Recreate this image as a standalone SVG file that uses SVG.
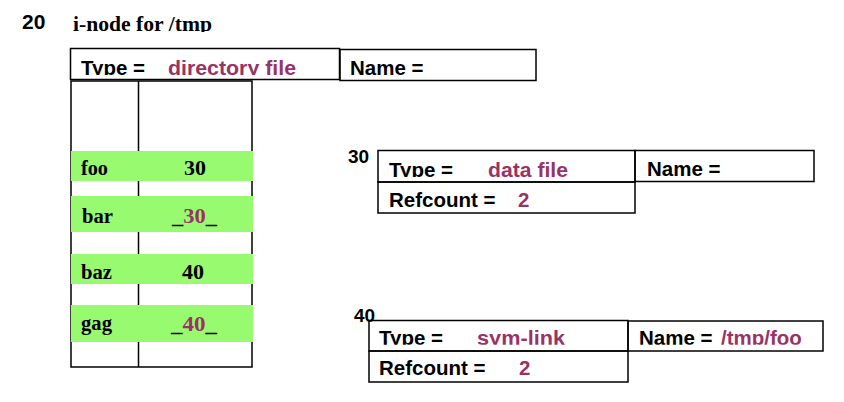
<svg xmlns="http://www.w3.org/2000/svg" width="844" height="402" viewBox="0 0 844 402">
<style>
.box{fill:none;stroke:#000;stroke-width:1.5}
.row{fill:#98fa6f}
.sans{font-family:"Liberation Sans",Arial,sans-serif;font-weight:bold;font-size:20.5px;fill:#000}
.serif{font-family:"Liberation Serif","Times New Roman",serif;font-weight:bold;font-size:20px;fill:#000}
.pur{fill:#993366}
</style>
<defs>
<clipPath id="c20"><rect x="60" y="40" width="490" height="35"/></clipPath>
<clipPath id="c30"><rect x="370" y="140" width="460" height="37"/></clipPath>
<clipPath id="c40"><rect x="360" y="322" width="470" height="22.8"/></clipPath>
<clipPath id="ctitle"><rect x="60" y="5" width="200" height="27"/></clipPath>
</defs>
<rect width="844" height="402" fill="#fff"/>
<g id="title">
<text class="sans" x="22" y="29" style="font-size:21px">20</text>
<text class="serif" x="73" y="31" textLength="139" lengthAdjust="spacingAndGlyphs" clip-path="url(#ctitle)">i-node for /tmp</text>
</g>
<g id="inode20">
<rect class="box" x="70.5" y="48.5" width="269" height="31"/>
<rect class="box" x="340" y="49.5" width="196" height="31"/>
<g clip-path="url(#c20)">
<text class="sans" x="81" y="74.5">Type =</text>
<text class="sans pur" x="168" y="74.5" textLength="128" lengthAdjust="spacingAndGlyphs">directory file</text>
<text class="sans" x="350" y="75">Name =</text>
</g>
<g id="table">
<rect class="box" x="71" y="81" width="181" height="286"/>
<line class="box" x1="138.5" y1="81" x2="138.5" y2="367"/>
<rect class="row" x="71" y="151" width="182" height="30"/>
<rect class="row" x="71" y="196" width="182" height="36"/>
<rect class="row" x="71" y="254" width="182" height="30"/>
<rect class="row" x="71" y="305" width="182" height="37"/>
<text class="serif" x="81" y="175" textLength="27" lengthAdjust="spacingAndGlyphs">foo</text>
<text class="serif" x="184" y="175" textLength="22" lengthAdjust="spacingAndGlyphs">30</text>
<text class="serif" x="82" y="223" textLength="31" lengthAdjust="spacingAndGlyphs">bar</text>
<text class="serif" x="172" y="223" textLength="45" lengthAdjust="spacingAndGlyphs">_<tspan class="pur">30</tspan>_</text>
<text class="serif" x="81" y="279" textLength="31" lengthAdjust="spacingAndGlyphs">baz</text>
<text class="serif" x="182" y="279" textLength="22" lengthAdjust="spacingAndGlyphs">40</text>
<text class="serif" x="81" y="330" textLength="31" lengthAdjust="spacingAndGlyphs">gag</text>
<text class="serif" x="171" y="331" textLength="46" lengthAdjust="spacingAndGlyphs">_<tspan class="pur">40</tspan>_</text>
</g>
</g>
<g id="inode30">
<text class="sans" x="348" y="163" style="font-size:19px">30</text>
<rect class="box" x="378" y="150.5" width="257" height="31.5"/>
<rect class="box" x="635" y="150.5" width="179" height="31"/>
<rect class="box" x="378" y="182" width="257" height="31"/>
<g clip-path="url(#c30)">
<text class="sans" x="389" y="176.5">Type =</text>
<text class="sans pur" x="488" y="176.5" textLength="80" lengthAdjust="spacingAndGlyphs">data file</text>
<text class="sans" x="647" y="176">Name =</text>
</g>
<text class="sans" x="389" y="207">Refcount =</text>
<text class="sans pur" x="518" y="207">2</text>
</g>
<g id="inode40">
<rect class="box" x="369" y="320.5" width="259" height="30.5"/>
<rect class="box" x="628" y="321" width="195" height="30"/>
<rect class="box" x="369" y="351" width="259" height="31"/>
<text class="sans" x="354" y="322" style="font-size:19px">40</text>
<g clip-path="url(#c40)">
<text class="sans" x="379" y="344.5">Type =</text>
<text class="sans pur" x="477" y="344.5" textLength="88" lengthAdjust="spacingAndGlyphs">sym-link</text>
<text class="sans" x="639" y="344.5">Name = <tspan class="pur" x="721">/tmp/foo</tspan></text>
</g>
<text class="sans" x="379" y="375">Refcount =</text>
<text class="sans pur" x="519" y="375">2</text>
</g>
<g id="connectors"/>
</svg>
